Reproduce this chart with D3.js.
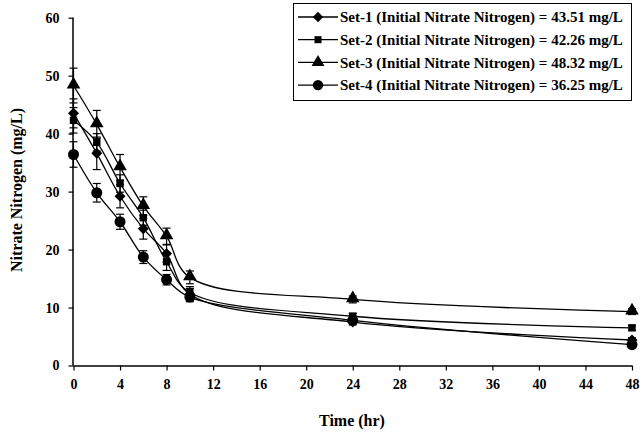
<!DOCTYPE html>
<html><head><meta charset="utf-8">
<script src="https://cdn.jsdelivr.net/npm/d3@7"></script>
<style>
html,body{margin:0;padding:0;background:#fff;}
svg text{font-family:"Liberation Serif","Times New Roman",serif;font-weight:bold;fill:#000;}
</style></head>
<body><svg id="c" width="641" height="432"></svg>
<script>
const times = [0, 2, 4, 6, 8, 10, 24, 48];
const set1 = [43.5, 36.6, 29.2, 23.6, 19.3, 12.3, 7.5, 4.4];
const set2 = [42.3, 38.5, 31.4, 25.5, 17.9, 12.6, 8.5, 6.5];
const set3 = [48.3, 41.6, 34.2, 27.5, 22.3, 15.2, 11.4, 9.3];
const set4 = [36.4, 29.8, 24.8, 18.7, 14.8, 11.8, 7.8, 3.6];
const err1 = [2.5, 2.8, 2.0, 1.8, 1.5, 1.0, 0.5, 0.4];
const err2 = [2.2, 1.5, 1.5, 1.3, 1.5, 1.0, 0.5, 0.4];
const err3 = [3.0, 2.4, 2.2, 1.6, 1.4, 1.1, 0.6, 0.5];
const err4 = [2.2, 1.6, 1.3, 1.1, 0.9, 0.8, 0.5, 0.4];
const legendLabels = [
  "Set-1 (Initial Nitrate Nitrogen) = 43.51 mg/L",
  "Set-2 (Initial Nitrate Nitrogen) = 42.26 mg/L",
  "Set-3 (Initial Nitrate Nitrogen) = 48.32 mg/L",
  "Set-4 (Initial Nitrate Nitrogen) = 36.25 mg/L"
];
const xTicks = [0,4,8,12,16,20,24,28,32,36,40,44,48];
const yTicks = [0,10,20,30,40,50,60];
const markers = ["diamond","square","triangle","circle"];

const series = [set1,set2,set3,set4].map((v,i)=>({
  name: legendLabels[i], marker: markers[i],
  pts: times.map((t,j)=>({t, v:v[j], e:[err1,err2,err3,err4][i][j]}))
}));

const svg = d3.select("#c");
const L=73.5, R=632, T=17.7, B=365.5;
const x = d3.scaleLinear().domain([0,48]).range([L,R]);
const y = d3.scaleLinear().domain([0,60]).range([B,T]);

const symType = {diamond:d3.symbolSquare, square:d3.symbolSquare, triangle:d3.symbolTriangle, circle:d3.symbolCircle};
const symSize = {diamond:60, square:55, triangle:80, circle:95};
const symRot = {diamond:45, square:0, triangle:0, circle:0};
function sym(m, scale=1){ return d3.symbol().type(symType[m]).size(symSize[m]*scale)(); }

// axes
const xa = svg.append("g").attr("transform",`translate(0,${B})`)
  .call(d3.axisBottom(x).tickValues(xTicks).tickSize(5).tickPadding(9).tickFormat(d3.format("d")));
const ya = svg.append("g").attr("transform",`translate(${L},0)`)
  .call(d3.axisLeft(y).tickValues(yTicks).tickSize(5).tickPadding(9).tickFormat(d3.format("d")));
[xa,ya].forEach(a=>{
  a.attr("font-family",null);
  a.selectAll("path").attr("stroke","#000").attr("stroke-width",1.5);
  a.selectAll("line").attr("stroke","#000").attr("stroke-width",1.2);
  a.selectAll("text").style("font-size","14px").style("font-family","'Liberation Serif', serif").style("font-weight","bold");
});
xa.select(".domain").attr("d",`M${L},0.5H${R}`);
ya.select(".domain").attr("d",`M-0.5,${B}V${T}`);

// lines
const line = d3.line().x(d=>x(d.t)).y(d=>y(d.v)).curve(d3.curveCatmullRom.alpha(0.5));
series.forEach(s=>{
  svg.append("path").attr("d",line(s.pts)).attr("fill","none").attr("stroke","#000").attr("stroke-width",1.3);
});
// error bars
series.forEach(s=>{
  const g = svg.append("g").attr("stroke","#000").attr("stroke-width",1.2);
  s.pts.forEach(p=>{
    const cx=x(p.t);
    g.append("line").attr("x1",cx).attr("x2",cx).attr("y1",y(p.v-p.e)).attr("y2",y(p.v+p.e));
    g.append("line").attr("x1",cx-4).attr("x2",cx+4).attr("y1",y(p.v-p.e)).attr("y2",y(p.v-p.e));
    g.append("line").attr("x1",cx-4).attr("x2",cx+4).attr("y1",y(p.v+p.e)).attr("y2",y(p.v+p.e));
  });
});
// markers
series.forEach(s=>{
  svg.append("g").selectAll("path").data(s.pts).join("path")
    .attr("d",sym(s.marker))
    .attr("transform",d=>`translate(${x(d.t)},${y(d.v)+(s.marker==="triangle"?-1:0)}) rotate(${symRot[s.marker]})`)
    .attr("fill","#000");
});

// legend
const lg = svg.append("g");
lg.append("rect").attr("x",293.5).attr("y",3.5).attr("width",338).attr("height",97)
  .attr("fill","#fff").attr("stroke","#000").attr("stroke-width",1);
series.forEach((s,i)=>{
  const yy = 17 + i*22.7;
  lg.append("line").attr("x1",298).attr("x2",338).attr("y1",yy).attr("y2",yy).attr("stroke","#000").attr("stroke-width",1.3);
  lg.append("path").attr("d",sym(s.marker,0.9)).attr("transform",`translate(318,${yy}) rotate(${symRot[s.marker]})`).attr("fill","#000");
  lg.append("text").attr("x",340).attr("y",yy).attr("dy","0.35em").style("font-size","15px").text(s.name);
});

// titles
svg.append("text").attr("x",352).attr("y",426).attr("text-anchor","middle").style("font-size","16px").text("Time (hr)");
svg.append("text").attr("transform",`translate(22,190) rotate(-90)`).attr("text-anchor","middle").style("font-size","16px").text("Nitrate Nitrogen (mg/L)");
</script></body></html>
